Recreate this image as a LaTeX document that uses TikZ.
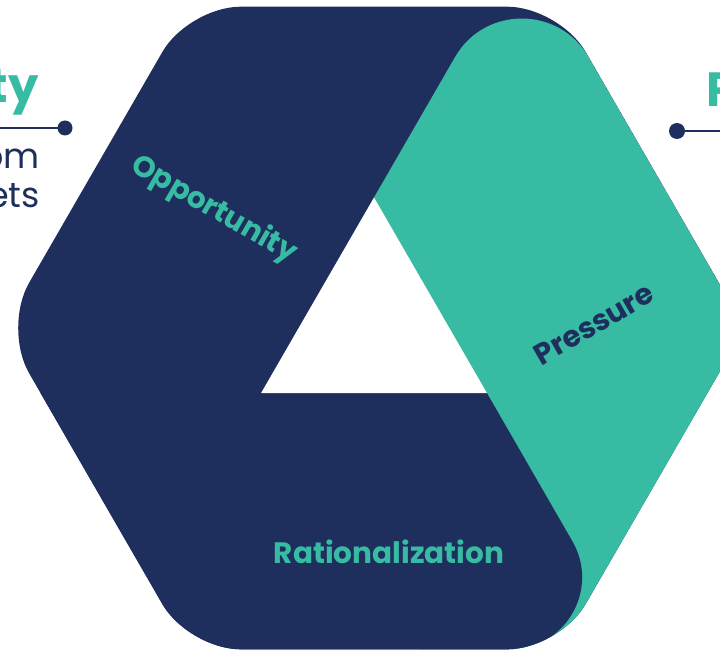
\documentclass[tikz,border=0pt]{standalone}
\usepackage{fontspec}
\setmainfont{Poppins}
\definecolor{navy}{HTML}{1F2F5D}
\definecolor{jade}{HTML}{37BBA3}
\tikzset{
  bandlabel/.style={font=\bfseries\fontsize{29.5}{34}\selectfont, inner sep=0pt},
  heading/.style={font=\bfseries\fontsize{48}{56}\selectfont, text=jade, inner sep=0pt},
  bodytext/.style={font=\fontsize{35}{39}\selectfont, text=navy, inner sep=0pt},
  pin/.style={navy, line width=2.5pt},
}

\begin{document}
\begin{tikzpicture}[x=1pt,y=-1pt]
			%%%%% FRAME %%%%%
			\useasboundingbox (0,0) rectangle (720,650);
			\clip (0,0) rectangle (720,650);
			
			%%%%% HEXAGON %%%%%
			\coordinate (hexL) at (3,328);
			\coordinate (hexTL) at (188.5,6.7);
			\coordinate (hexTR) at (559.5,6.7);
			\coordinate (hexR) at (745,328);
			\coordinate (hexBR) at (559.5,649.3);
			\coordinate (hexBL) at (188.5,649.3);
			
			\coordinate (apex) at (374,197.5);
			\coordinate (baseL) at (261,393.2);
			\coordinate (baseR) at (487,393.2);
			
			\begin{scope}
				\clip[rounded corners=52pt] (hexL) -- (hexTL) -- (hexTR) -- (hexR) -- (hexBR) -- (hexBL) -- cycle;
				\fill[navy] (-20,-20) rectangle (800,720);
				
				% pressure band, round cap at the top
				\fill[jade] (apex) -- (455.1,57.0) .. controls (484.7,5.7) and (558.9,5.7) .. (588.5,57.0)
					-- (786.6,400) -- (786.6,720) -- (420,720) -- (420,393.2) -- cycle;
				
				% rationalization band, round end over the pressure band
				\fill[navy] (baseR) -- (572.4,541.3) .. controls (600.1,589.3) and (565.5,649.3) .. (510.1,649.3)
					-- (-20,649.3) -- (-20,393.2) -- cycle;
				
				\fill[white] (apex) -- (baseL) -- (baseR) -- cycle;
				
				\node[bandlabel, text=jade, rotate=-30] (opportunity) at (214,210) {Opportunity};
				\node[bandlabel, text=navy, rotate=30] (pressure) at (594,324) {Pressure};
				\node[bandlabel, text=jade, anchor=base] (rationalization) at (389,563) {Rationalization};
			\end{scope}
			
			%%%%% SIDE TEXT %%%%%
			\node[heading, anchor=base east] (oppHead) at (39,103) {ty};
			\node[heading, anchor=base west] (presHead) at (706,107) {P};
			
			\coordinate (oppDot) at (65,128);
			\coordinate (oppEnd) at (-10,128);
			\draw[pin] (oppEnd) -- (oppDot);
			\fill[navy] (oppDot) circle (7.5);
			
			\coordinate (presDot) at (677,131);
			\coordinate (presEnd) at (730,131);
			\draw[pin] (presDot) -- (presEnd);
			\fill[navy] (presDot) circle (8);
			
			\node[bodytext, anchor=base east] (oppLineA) at (40,168) {om};
			\node[bodytext, anchor=base east] (oppLineB) at (40,207) {ets};
		\end{tikzpicture}
\end{document}
